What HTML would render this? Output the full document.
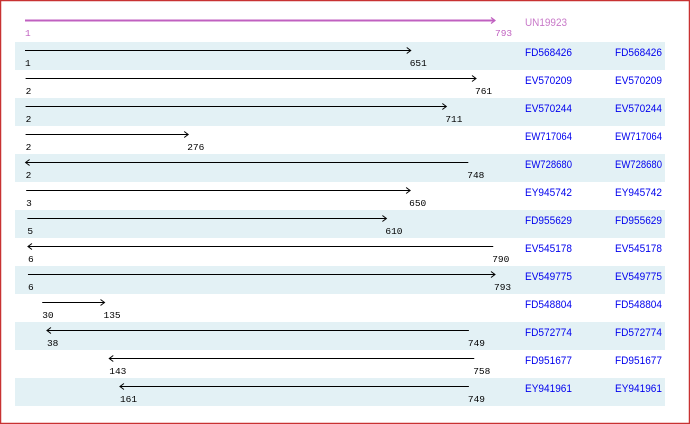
<!DOCTYPE html>
<html><head><meta charset="utf-8"><style>
html,body{margin:0;padding:0;background:#fff}
svg{display:block}
.n{font-family:"Liberation Mono",monospace;font-size:9.5px;fill:#000}
.l{font-family:"Liberation Sans",sans-serif;font-size:11px;fill:#0000ee}
</style></head><body>
<svg width="690" height="424" viewBox="0 0 690 424" xmlns="http://www.w3.org/2000/svg">
<rect x="0.5" y="0.5" width="689" height="423" fill="#fff" stroke="#c83232" stroke-width="1.5"/>
<g fill="#e3f1f5">
<rect x="15" y="42" width="650" height="28"/>
<rect x="15" y="98" width="650" height="28"/>
<rect x="15" y="154" width="650" height="28"/>
<rect x="15" y="210" width="650" height="28"/>
<rect x="15" y="266" width="650" height="28"/>
<rect x="15" y="322" width="650" height="28"/>
<rect x="15" y="378" width="650" height="28"/>
</g>
<line x1="25" y1="20.5" x2="495" y2="20.5" stroke="#c060c0" stroke-width="2"/>
<path d="M491,17.5 L495,20.5 L491,23.5" fill="none" stroke="#c060c0" stroke-width="1.2"/>
<text x="25" y="36" class="n" style="fill:#c060c0">1</text>
<text x="495" y="36" class="n" style="fill:#c060c0">793</text>
<text x="525" y="26" class="l" style="fill:#c878c8" textLength="42" lengthAdjust="spacingAndGlyphs">UN19923</text>
<g stroke="#000" stroke-width="1" fill="none" id="rows"></g>
<g id="txt"></g>
<script>
var rows=[["FD568426",1,651,0],["EV570209",2,761,0],["EV570244",2,711,0],["EW717064",2,276,0],["EW728680",2,748,1],["EY945742",3,650,0],["FD955629",5,610,0],["EV545178",6,790,1],["EV549775",6,793,0],["FD548804",30,135,0],["FD572774",38,749,1],["FD951677",143,758,1],["EY941961",161,749,1]];
var g=document.getElementById('rows'),t=document.getElementById('txt'),ns="http://www.w3.org/2000/svg";
function X(n){return 25+(n-1)*470/792;}
rows.forEach(function(r,k){
 var top=42+28*k,y=top+8.5,a=X(r[1]),b=X(r[2]);
 var l=document.createElementNS(ns,'line');l.setAttribute('x1',a);l.setAttribute('x2',b);l.setAttribute('y1',y);l.setAttribute('y2',y);g.appendChild(l);
 var p=document.createElementNS(ns,'path');
 if(r[3])p.setAttribute('d','M'+(a+4)+','+(y-3)+' L'+a+','+y+' L'+(a+4)+','+(y+3));
 else p.setAttribute('d','M'+(b-4)+','+(y-3)+' L'+b+','+y+' L'+(b-4)+','+(y+3));
 g.appendChild(p);
 function tx(x,yy,s,c,w){var e=document.createElementNS(ns,'text');e.setAttribute('x',x);e.setAttribute('y',yy);e.setAttribute('class',c);if(w){e.setAttribute('textLength',w);e.setAttribute('lengthAdjust','spacingAndGlyphs');}e.textContent=s;t.appendChild(e);}
 tx(a,top+24,r[1],'n');tx(b-1,top+24,r[2],'n');
 tx(525,top+14,r[0],'l',47);tx(615,top+14,r[0],'l',47);
});
</script>
</svg>
</body></html>
